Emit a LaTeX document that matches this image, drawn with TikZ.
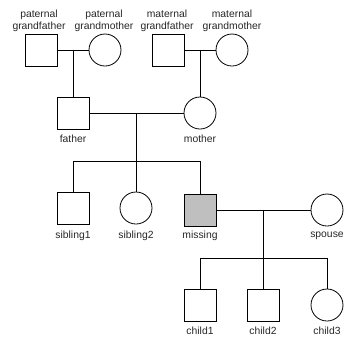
\documentclass[tikz,border=0pt]{standalone}
\usepackage{fontspec}
\setmainfont{Liberation Sans}
\begin{document}
\begin{tikzpicture}[x=1bp,y=-1bp,line width=0.8pt,
  male/.style={draw,rectangle,minimum size=32bp,inner sep=0pt},
  female/.style={draw,circle,minimum size=32bp,inner sep=0pt},
  lbl/.style={font=\fontsize{10.4}{12}\selectfont,inner sep=0pt,align=center,text=black!85}]
\useasboundingbox (0,0) rectangle (345,339);
% generation 1
\node[male]   (pgf) at (41,50) {};
\node[female] (pgm) at (105,50) {};
\node[male]   (mgf) at (168,50) {};
\node[female] (mgm) at (232,50) {};
\node[lbl] (lpgf) at (39,21) {paternal\\grandfather};
\node[lbl] (lpgm) at (104,21) {paternal\\grandmother};
\node[lbl] (lmgf) at (167,21) {maternal\\grandfather};
\node[lbl] (lmgm) at (232,21) {maternal\\grandmother};
% generation 2
\node[male]   (father) at (73,113) {};
\node[female] (mother) at (200,113) {};
\node[lbl] (lfather) at (73,139) {father};
\node[lbl] (lmother) at (200,139) {mother};
% generation 3
\node[male]   (sib1) at (73,208) {};
\node[female] (sib2) at (136,208) {};
\node[male,fill=black!25] (missing) at (200,210) {};
\node[female] (spouse) at (327,210) {};
\node[lbl] (lsib1) at (73,236) {sibling1};
\node[lbl] (lsib2) at (136,236) {sibling2};
\node[lbl] (lmissing) at (200,236) {missing};
\node[lbl] (lspouse) at (327,236) {spouse};
% generation 4
\node[male]   (c1) at (200,305) {};
\node[male]   (c2) at (263,305) {};
\node[female] (c3) at (327,305) {};
\node[lbl] (lc1) at (200,331) {child1};
\node[lbl] (lc2) at (263,331) {child2};
\node[lbl] (lc3) at (327,331) {child3};
% connectors
\coordinate (s1) at (136,161);
\coordinate (s2) at (263,258);
\draw (pgf.east) -- (pgm.west);
\draw (father.north |- pgf.east) -- (father.north);
\draw (mgf.east) -- (mgm.west);
\draw (mother.north |- mgf.east) -- (mother.north);
\draw (father.east) -- (mother.west);
\draw (s1 |- father.east) -- (s1);
\draw (sib1.north) -- (sib1.north |- s1) -- (missing.north |- s1) -- (missing.north);
\draw (sib2.north |- s1) -- (sib2.north);
\draw (missing.east) -- (spouse.west);
\draw (s2 |- missing.east) -- (s2);
\draw (c1.north) -- (c1.north |- s2) -- (c3.north |- s2) -- (c3.north);
\draw (c2.north |- s2) -- (c2.north);
\end{tikzpicture}
\end{document}
